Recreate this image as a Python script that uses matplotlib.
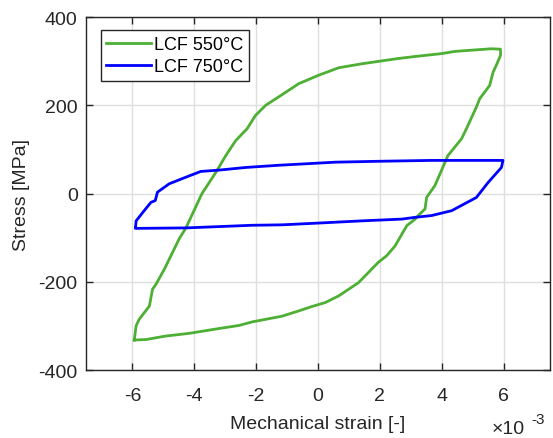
import numpy as np
import matplotlib
matplotlib.use("Agg")
import matplotlib.pyplot as plt

plt.rcParams['font.family'] = ['Liberation Sans', 'DejaVu Sans']

# hysteresis loops, strain in 1e-3 units, stress in MPa
strain_550 = [-5.94, -5.88, -5.78, -5.45, -5.35, -5.24, -4.97, -4.49, -4.27, -3.75,
              -3.30, -2.98, -2.66, -2.29, -2.02, -1.69, -1.27, -0.62, 0.02, 0.67,
              1.42, 2.01, 2.60, 3.20, 3.99, 4.42, 5.00, 5.60, 5.90,
              5.90, 5.76, 5.66, 5.55, 5.23, 5.12, 4.80, 4.64, 4.20, 3.99, 3.78,
              3.51, 3.46, 3.24, 3.14, 2.87, 2.49, 2.22, 1.95, 1.31, 0.67, 0.24,
              -0.19, -0.62, -1.16, -2.13, -2.55, -3.20, -4.17, -4.92, -5.56, -5.94]
stress_550 = [-332, -300, -285, -255, -217, -206, -172, -103, -78, 0,
              48, 86, 120, 147, 177, 200, 219, 249, 268, 285,
              294, 300, 306, 311, 317, 322, 325, 328, 327,
              313, 290, 275, 245, 215, 196, 147, 124, 86, 52, 18,
              -9, -35, -50, -58, -73, -119, -141, -156, -202, -232, -247,
              -256, -266, -278, -291, -299, -306, -317, -323, -331, -332]

strain_750 = [-5.90, -5.88, -5.62, -5.40, -5.26, -5.19, -4.81, -4.27, -3.79, -3.20,
              -2.34, -1.27, 0.56, 1.95, 3.67, 4.85, 5.98,
              5.93, 5.50, 5.12, 4.32, 3.67, 3.14, 2.71, 1.42, 0.02, -1.16,
              -2.13, -3.20, -4.27, -5.83, -5.90]
stress_750 = [-78, -62, -39, -20, -16, 3, 22, 37, 50, 53,
              59, 64, 71, 73, 75, 75, 75,
              59, 25, -9, -39, -50, -54, -58, -62, -67, -71,
              -72, -75, -78, -79, -78]

labels = ['LCF 550°C', 'LCF 750°C']
colors = ['#4daf33', '#0000ff']
xticks = [-6, -4, -2, 0, 2, 4, 6]
yticks = [-400, -200, 0, 200, 400]

dark = '#262626'
fig = plt.figure(figsize=(5.53, 4.39), dpi=100)
ax = fig.add_axes([86/553, 1 - 371/439, 464/553, 353/439])

ax.plot(strain_550, stress_550, color=colors[0], lw=2, label=labels[0])
ax.plot(strain_750, stress_750, color=colors[1], lw=2, label=labels[1])

ax.set_xlim(-7.5, 7.5)
ax.set_ylim(-400, 400)
ax.set_xticks(xticks)
ax.set_yticks(yticks)
ax.set_xticklabels([str(t) for t in xticks])
ax.set_yticklabels([str(t) for t in yticks])
ax.grid(True, color='#dfdfdf', lw=1)
ax.set_axisbelow(True)
ax.tick_params(direction='in', length=5, width=1, top=True, right=True,
               labelsize=14, colors=dark)
ax.tick_params(axis='x', pad=12)
ax.tick_params(axis='y', pad=6)
for s in ax.spines.values():
    s.set_color(dark)
    s.set_linewidth(1)

ax.set_xlabel('Mechanical strain [-]', fontsize=14, color=dark, labelpad=8)
ax.set_ylabel('Stress [MPa]', fontsize=14, color=dark, labelpad=6)

# exponent of the strain axis
fig.text(492/553, 1 - 434/439, '×10', fontsize=14, color=dark, ha='left', va='baseline')
fig.text(531/553, 1 - 424/439, '-3', fontsize=11, color=dark, ha='left', va='baseline')

leg = ax.legend(loc='upper left', bbox_to_anchor=(0.032, 0.962), fontsize=13,
                fancybox=False, framealpha=1, edgecolor=dark, handlelength=2.5,
                handletextpad=0.15, borderpad=0.3, labelspacing=0.3,
                borderaxespad=0)
leg.get_frame().set_linewidth(1)

fig.savefig('out.png', dpi=100)
